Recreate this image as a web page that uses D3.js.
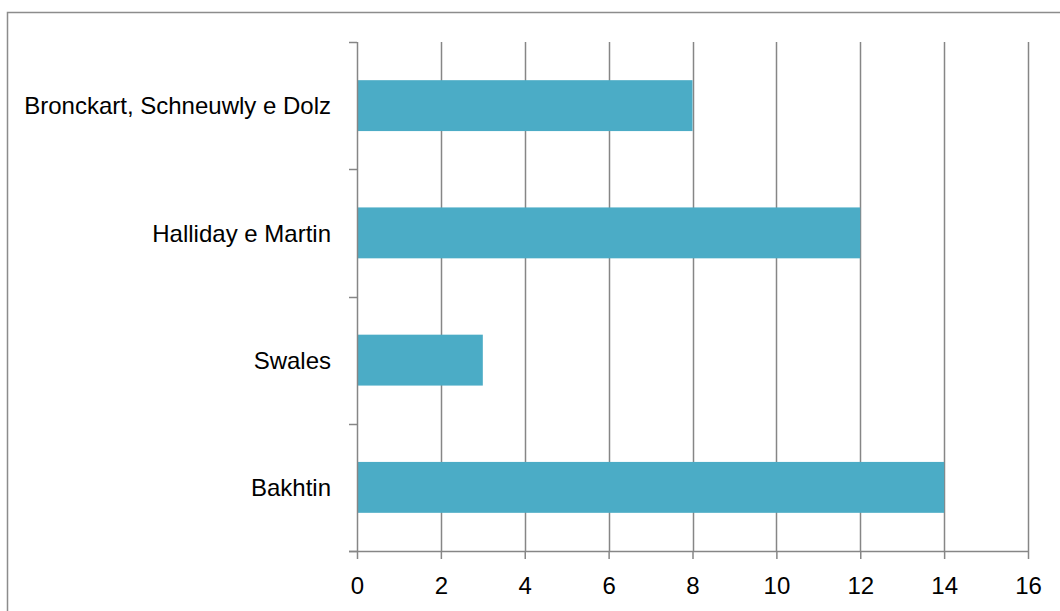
<!DOCTYPE html>
<html>
<head>
<meta charset="utf-8">
<script src="https://cdn.jsdelivr.net/npm/d3@7"></script>
<style>
  html, body { margin: 0; padding: 0; background: #fff; }
  svg { display: block; }
  text { font-family: "Liberation Sans", Arial, sans-serif; fill: #000; }
</style>
</head>
<body>
<svg id="chart" width="1060" height="611"></svg>
<script>
// Authors cited, top to bottom, and the number of citations for each
const categories = ["Bronckart, Schneuwly e Dolz", "Halliday e Martin", "Swales", "Bakhtin"];
const counts = [8, 12, 3, 14];
const xTicks = [0, 2, 4, 6, 8, 10, 12, 14, 16];

const W = 1060, H = 611;
const plot = { left: 357, right: 1028, top: 42, bottom: 551 };
const gridColor = "#868686";
const barColor = "#4bacc6";

const svg = d3.select("#chart");

// outer chart frame
svg.append("rect")
  .attr("x", 7.5).attr("y", 12.5)
  .attr("width", W + 20).attr("height", H + 20)
  .attr("fill", "#fff")
  .attr("stroke", "#8c8c8c")
  .attr("stroke-width", 1.5);

const x = d3.scaleLinear().domain([0, 16]).range([plot.left, plot.right]);
const y = d3.scaleBand().domain(categories).range([plot.top, plot.bottom]).padding(0);

// vertical gridlines
svg.append("g")
  .selectAll("line")
  .data(xTicks.slice(1))
  .join("line")
  .attr("x1", d => Math.round(x(d)) + 0.5)
  .attr("x2", d => Math.round(x(d)) + 0.5)
  .attr("y1", plot.top)
  .attr("y2", plot.bottom)
  .attr("stroke", gridColor)
  .attr("stroke-width", 1.5);

// bars: 40% of each band, centred
const barFrac = 0.4;
svg.append("g")
  .selectAll("rect")
  .data(categories.map((c, i) => ({ c, v: counts[i] })))
  .join("rect")
  .attr("x", x(0))
  .attr("y", d => y(d.c) + y.bandwidth() * (1 - barFrac) / 2)
  .attr("width", d => x(d.v) - x(0))
  .attr("height", y.bandwidth() * barFrac)
  .attr("fill", barColor);

// bottom value axis
const xAxis = d3.axisBottom(x).tickValues(xTicks).tickSize(8).tickPadding(18);
const gx = svg.append("g")
  .attr("transform", `translate(0,${plot.bottom})`)
  .call(xAxis);
gx.select(".domain").attr("stroke", gridColor).attr("stroke-width", 1.5)
  .attr("d", `M${plot.left - 8},0.5H${plot.right}`);
gx.selectAll(".tick line").attr("stroke", gridColor).attr("stroke-width", 1.5);
gx.selectAll(".tick text")
  .attr("font-family", "Liberation Sans, Arial, sans-serif")
  .attr("font-size", 24)
  .attr("fill", "#000");

// left category axis with ticks on band boundaries
const gy = svg.append("g");
gy.append("line")
  .attr("x1", plot.left + 0.5).attr("x2", plot.left + 0.5)
  .attr("y1", plot.top).attr("y2", plot.bottom)
  .attr("stroke", gridColor).attr("stroke-width", 1.5);
const bounds = categories.map(c => y(c)).concat([plot.bottom]);
gy.selectAll("line.tick")
  .data(bounds)
  .join("line")
  .attr("class", "tick")
  .attr("x1", plot.left - 8).attr("x2", plot.left)
  .attr("y1", d => Math.round(d) + 0.5)
  .attr("y2", d => Math.round(d) + 0.5)
  .attr("stroke", gridColor).attr("stroke-width", 1.5);
gy.selectAll("text")
  .data(categories)
  .join("text")
  .attr("x", plot.left - 26)
  .attr("y", d => y(d) + y.bandwidth() / 2)
  .attr("dy", "0.36em")
  .attr("text-anchor", "end")
  .attr("font-size", 24)
  .text(d => d);
</script>
</body>
</html>
